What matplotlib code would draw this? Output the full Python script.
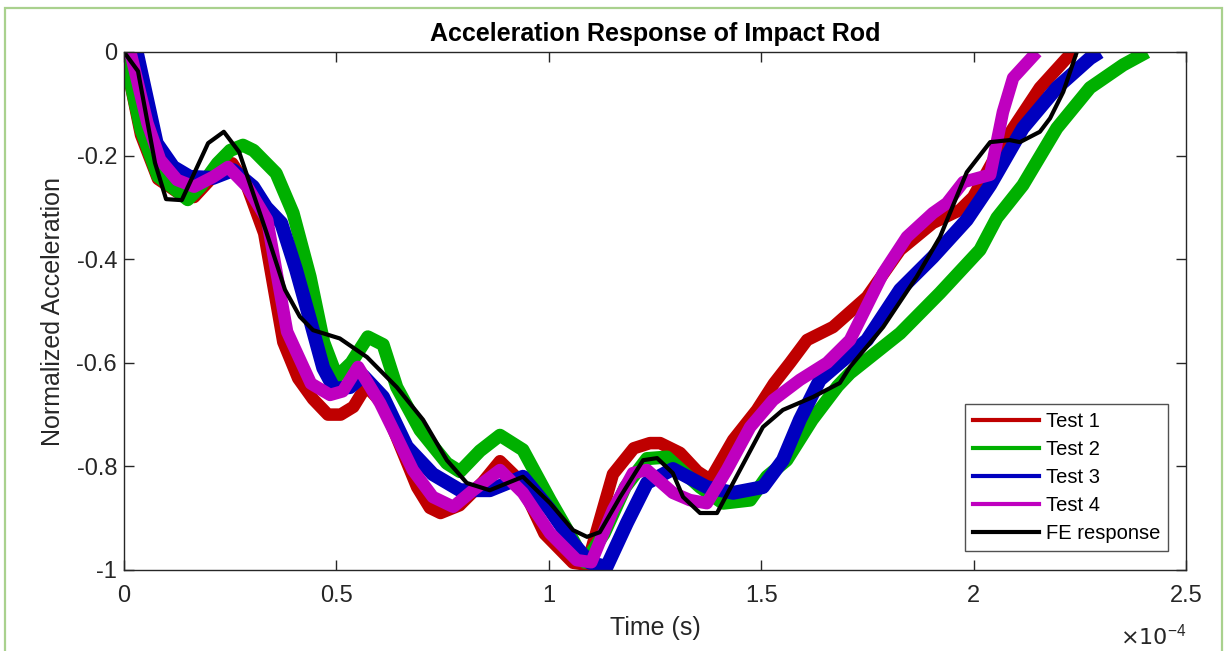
import numpy as np
import matplotlib
matplotlib.use('Agg')
import matplotlib.pyplot as plt
from matplotlib.patches import Rectangle
from matplotlib.ticker import FuncFormatter

plt.rcParams['font.family'] = ['Liberation Sans', 'DejaVu Sans']
plt.rcParams['axes.unicode_minus'] = False

# time values are in units of 1e-4 s, acceleration is normalized
t_test1 = [0, 0.04, 0.08, 0.125, 0.165, 0.21, 0.255, 0.29, 0.33, 0.375, 0.41, 0.445, 0.48, 0.51, 0.54,
           0.57, 0.61, 0.65, 0.69, 0.72, 0.745, 0.79, 0.845, 0.885, 0.93, 0.99, 1.057, 1.09, 1.151, 1.2,
           1.238, 1.262, 1.309, 1.35, 1.38, 1.434, 1.49, 1.53, 1.568, 1.608, 1.669, 1.749, 1.827, 1.904,
           1.968, 1.999, 2.046, 2.093, 2.156, 2.219, 2.235]
a_test1 = [0, -0.16, -0.245, -0.27, -0.28, -0.24, -0.215, -0.26, -0.35, -0.56, -0.63, -0.67, -0.7, -0.7, -0.685,
           -0.645, -0.68, -0.76, -0.84, -0.88, -0.89, -0.875, -0.83, -0.79, -0.826, -0.93, -0.986, -0.99, -0.815, -0.765,
           -0.755, -0.755, -0.774, -0.81, -0.826, -0.749, -0.691, -0.64, -0.6, -0.556, -0.531, -0.473, -0.382, -0.33,
           -0.305, -0.28, -0.21, -0.147, -0.069, -0.012, 0]

t_test2 = [0, 0.04, 0.08, 0.12, 0.15, 0.18, 0.22, 0.25, 0.28, 0.305, 0.358, 0.398, 0.438, 0.47, 0.501, 0.535,
           0.574, 0.61, 0.642, 0.697, 0.76, 0.791, 0.838, 0.885, 0.939, 1.003, 1.057, 1.085, 1.13, 1.18, 1.231,
           1.278, 1.356, 1.41, 1.474, 1.513, 1.56, 1.62, 1.68, 1.709, 1.827, 1.921, 2.015, 2.055, 2.116, 2.196,
           2.274, 2.352, 2.408]
a_test2 = [0, -0.15, -0.24, -0.265, -0.285, -0.26, -0.215, -0.19, -0.18, -0.19, -0.234, -0.311, -0.434, -0.56, -0.627, -0.6,
           -0.55, -0.565, -0.647, -0.73, -0.794, -0.81, -0.77, -0.74, -0.768, -0.865, -0.942, -0.985, -0.93, -0.84, -0.785,
           -0.782, -0.84, -0.871, -0.865, -0.82, -0.788, -0.71, -0.645, -0.62, -0.543, -0.465, -0.382, -0.32, -0.257, -0.147,
           -0.069, -0.025, 0]

t_test3 = [0, 0.03, 0.077, 0.116, 0.155, 0.21, 0.257, 0.304, 0.335, 0.37, 0.405, 0.438, 0.469, 0.495, 0.532,
           0.563, 0.61, 0.666, 0.727, 0.791, 0.861, 0.939, 1.003, 1.057, 1.097, 1.136, 1.184, 1.231, 1.292,
           1.372, 1.434, 1.504, 1.551, 1.591, 1.638, 1.685, 1.749, 1.827, 1.904, 1.984, 2.039, 2.116, 2.196,
           2.274, 2.297]
a_test3 = [0, 0, -0.176, -0.222, -0.241, -0.243, -0.228, -0.26, -0.3, -0.33, -0.42, -0.517, -0.61, -0.65, -0.647,
           -0.625, -0.666, -0.762, -0.815, -0.846, -0.846, -0.82, -0.884, -0.948, -0.986, -0.994, -0.909, -0.832, -0.805,
           -0.84, -0.851, -0.84, -0.788, -0.71, -0.633, -0.6, -0.556, -0.459, -0.396, -0.324, -0.257, -0.147, -0.069,
           -0.012, 0]

t_test4 = [0, 0.015, 0.055, 0.085, 0.125, 0.165, 0.21, 0.245, 0.29, 0.337, 0.384, 0.44, 0.485, 0.515, 0.551,
           0.603, 0.642, 0.68, 0.727, 0.775, 0.822, 0.885, 0.939, 1.003, 1.066, 1.1, 1.151, 1.198, 1.231, 1.292,
           1.332, 1.372, 1.419, 1.474, 1.528, 1.591, 1.655, 1.709, 1.787, 1.843, 1.904, 1.937, 1.976, 2.039,
           2.069, 2.093, 2.149]
a_test4 = [0, 0, -0.137, -0.208, -0.247, -0.26, -0.241, -0.222, -0.26, -0.324, -0.54, -0.64, -0.662, -0.655, -0.608,
           -0.678, -0.743, -0.807, -0.859, -0.878, -0.846, -0.807, -0.851, -0.929, -0.981, -0.985, -0.884, -0.813, -0.807, -0.851,
           -0.865, -0.871, -0.807, -0.724, -0.672, -0.633, -0.6, -0.556, -0.427, -0.357, -0.311, -0.292, -0.251, -0.237,
           -0.116, -0.05, 0]

t_fe = [0, 0.033, 0.073, 0.099, 0.136, 0.198, 0.235, 0.271, 0.336, 0.379, 0.414, 0.445, 0.508, 0.572, 0.642,
        0.704, 0.76, 0.807, 0.861, 0.939, 1.003, 1.057, 1.09, 1.12, 1.168, 1.222, 1.255, 1.292, 1.316, 1.356,
        1.396, 1.45, 1.504, 1.551, 1.622, 1.685, 1.709, 1.787, 1.866, 1.921, 1.984, 2.039, 2.085, 2.109, 2.156,
        2.18, 2.211, 2.243]
a_fe = [0, -0.037, -0.214, -0.284, -0.286, -0.176, -0.154, -0.193, -0.35, -0.459, -0.511, -0.537, -0.553, -0.589, -0.647,
        -0.71, -0.788, -0.832, -0.846, -0.82, -0.871, -0.923, -0.936, -0.927, -0.859, -0.788, -0.784, -0.813, -0.859, -0.89,
        -0.89, -0.807, -0.724, -0.691, -0.666, -0.639, -0.608, -0.531, -0.434, -0.357, -0.232, -0.174, -0.17, -0.174, -0.154,
        -0.128, -0.077, 0]

labels = ['Test 1', 'Test 2', 'Test 3', 'Test 4', 'FE response']
colors = ['#bf0000', '#00b000', '#0000bf', '#bf00bf', 'black']
widths = [9, 9.5, 10, 9]

fig = plt.figure(figsize=(12.25, 6.51), dpi=100)
ax = fig.add_axes([124/1225, 1 - 570/651, 1062/1225, 518/651])

series = [(t_test1, a_test1), (t_test2, a_test2), (t_test3, a_test3), (t_test4, a_test4)]
for (t, a), c, w in zip(series, colors[:4], widths):
    ax.plot(np.array(t) * 1e-4, a, color=c, lw=w, solid_joinstyle='round', solid_capstyle='butt')
ax.plot(np.array(t_fe) * 1e-4, a_fe, color='black', lw=3)

ax.set_xlim(0, 2.5e-4)
ax.set_ylim(-1, 0)
ax.set_xticks(np.arange(0, 2.51, 0.5) * 1e-4)
ax.set_yticks([-1, -0.8, -0.6, -0.4, -0.2, 0])
ax.xaxis.set_major_formatter(FuncFormatter(lambda v, p: f'{v * 1e4:g}'))
ax.yaxis.set_major_formatter(FuncFormatter(lambda v, p: f'{v:g}'))
ax.tick_params(direction='in', length=7, width=1, top=True, right=True, labelsize=17,
               colors='#262626')
ax.tick_params(axis='x', pad=11)
ax.tick_params(axis='y', pad=5)
for s in ax.spines.values():
    s.set_color('#262626')
    s.set_linewidth(1)

ax.set_title('Acceleration Response of Impact Rod', fontsize=18, fontweight='bold', pad=8)
ax.set_xlabel('Time (s)', fontsize=18, color='#262626', labelpad=6)
ax.set_ylabel('Normalized Acceleration', fontsize=18, color='#262626', labelpad=8)
ax.text(1.0, -0.128, r'$\times10^{\mathregular{-4}}$', transform=ax.transAxes, ha='right', va='center',
        fontsize=16, color='#262626')

handles = [plt.Line2D([], [], color=c, lw=3) for c in colors]
leg = ax.legend(handles, labels, loc='lower right', bbox_to_anchor=(0.983, 0.0367), borderaxespad=0,
                fontsize=14.5, frameon=True, fancybox=False, edgecolor='#262626', handlelength=3.3,
                handletextpad=0.3, labelspacing=0.45, borderpad=0.4)
leg.get_frame().set_linewidth(1)

fig.patches.append(Rectangle((5/1225, -0.05), 1217/1225, 1.05 - 8/651, transform=fig.transFigure,
                             fill=False, edgecolor='#a9d18e', lw=1.6))

fig.savefig('out.png', dpi=100)
